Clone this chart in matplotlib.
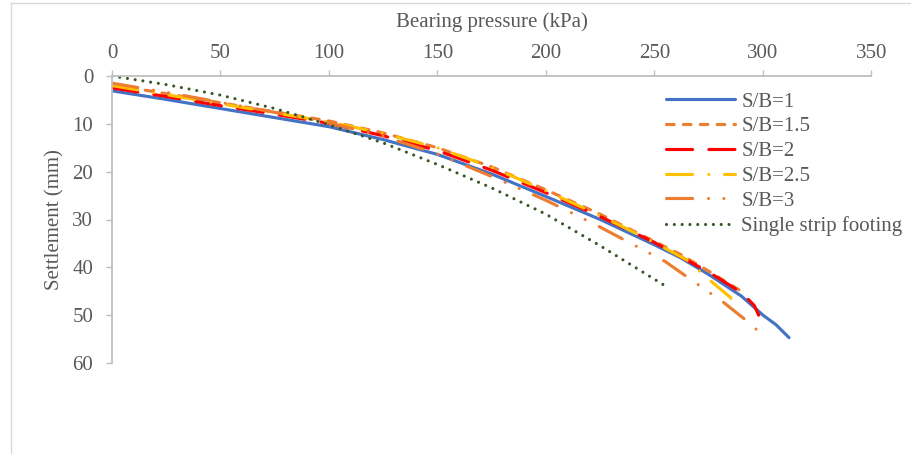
import matplotlib
matplotlib.use("Agg")
import matplotlib.pyplot as plt
from matplotlib.lines import Line2D

# ---- data ----
sb1_x = [0, 25, 50, 75, 100, 125, 150, 175, 200, 225, 250, 262, 275, 290, 300, 306, 312]
sb1_y = [3.1, 4.9, 6.8, 8.7, 10.6, 13.3, 16.4, 20.5, 25.2, 30.0, 35.3, 38.0, 41.5, 46.0, 50.0, 52.0, 54.7]

sb15_x = [0, 25, 50, 75, 100, 125, 150, 175, 200, 225, 250, 262, 275, 290]
sb15_y = [1.8, 3.7, 5.6, 7.5, 9.4, 11.9, 15.0, 19.0, 23.8, 28.9, 34.6, 37.3, 40.8, 45.0]

sb2_x = [0, 25, 50, 75, 100, 125, 150, 175, 200, 225, 250, 275, 287, 293, 296, 298]
sb2_y = [2.5, 4.3, 6.2, 8.0, 9.9, 12.5, 15.6, 19.7, 24.4, 29.4, 34.8, 41.0, 44.4, 46.6, 48.0, 50.0]

sb25_x = [0, 25, 50, 75, 100, 125, 150, 175, 200, 225, 250, 265, 275, 285, 288]
sb25_y = [2.0, 3.9, 5.8, 7.7, 9.6, 12.0, 15.0, 19.1, 24.0, 29.2, 34.8, 38.5, 42.5, 46.3, 48.8]

sb3_x = [0, 25, 50, 75, 100, 125, 150, 175, 200, 210, 225, 240, 255, 265, 282, 292, 297]
sb3_y = [1.5, 3.4, 5.5, 7.6, 9.8, 12.6, 16.3, 21.0, 26.0, 28.2, 31.6, 35.2, 38.8, 42.0, 47.4, 51.0, 53.0]

single_x = [0, 25, 50, 75, 100, 125, 150, 175, 200, 225, 255]
single_y = [0.0, 1.8, 4.0, 6.8, 10.2, 14.0, 18.5, 23.4, 28.9, 35.5, 43.9]

labels = ["S/B=1", "S/B=1.5", "S/B=2", "S/B=2.5", "S/B=3", "Single strip footing"]
x_ticks = [0, 50, 100, 150, 200, 250, 300, 350]
y_ticks = [0, 10, 20, 30, 40, 50, 60]

# ---- figure ----
W, H = 911, 454
fig = plt.figure(figsize=(W / 100, H / 100), dpi=100)
plt.rcParams['font.family'] = ['Liberation Serif', 'DejaVu Serif']
FS = 15
TXT = '#595959'
GRID = '#BFBFBF'

# outer chart border
fig.add_artist(Line2D([10.5 / W, 10.5 / W], [0, 1 - 3 / H], color='#D9D9D9', lw=1.0, transform=fig.transFigure))
fig.add_artist(Line2D([10.5 / W, 1], [1 - 3 / H, 1 - 3 / H], color='#D9D9D9', lw=1.0, transform=fig.transFigure))

left, right, top, bottom = 112, 871.5, 76, 363
ax = fig.add_axes([left / W, 1 - bottom / H, (right - left) / W, (bottom - top) / H])

LW = 2.25
series = [
    (sb1_x, sb1_y, '#4472C4', None),
    (sb15_x, sb15_y, '#ED7D31', (2.45, 2.95)),
    (sb2_x, sb2_y, '#FF0000', (8.35, 5.2)),
    (sb25_x, sb25_y, '#FFC000', (8.35, 5.2, 0.001, 5.0)),
    (sb3_x, sb3_y, '#ED7D31', (8.35, 5.1, 0.001, 4.9, 0.001, 5.0)),
    (single_x, single_y, '#375623', (0.001, 2.5)),
]
for (xs, ys, c, d), lab in zip(series, labels):
    if d is None:
        ax.plot(xs, ys, color=c, lw=LW, solid_capstyle='round', solid_joinstyle='round', label=lab)
    else:
        ax.plot(xs, ys, color=c, lw=LW, dashes=d, dash_capstyle='round', dash_joinstyle='round', label=lab)

ax.set_xlim(0, 350)
ax.set_ylim(60, 0)
ax.xaxis.tick_top()
ax.set_xticks(x_ticks)
ax.set_yticks(y_ticks)
ax.set_xticklabels([str(v) for v in x_ticks])
ax.set_yticklabels([str(v) for v in y_ticks])
for s in ['right', 'bottom']:
    ax.spines[s].set_visible(False)
for s in ['top', 'left']:
    ax.spines[s].set_color(GRID)
    ax.spines[s].set_linewidth(1.3)
ax.tick_params(axis='x', which='both', direction='out', length=4, width=1.0, color=GRID,
               labelsize=FS, labelcolor=TXT, pad=5, top=True, bottom=False)
ax.tick_params(axis='y', which='both', direction='out', length=4, width=1.0, color=GRID,
               labelsize=FS, labelcolor=TXT, pad=9.5)
ax.patch.set_visible(False)

fig.text(491.5 / W, 1 - 27 / H, "Bearing pressure (kPa)", ha='center', va='baseline', fontsize=FS, color=TXT)
fig.text(55 / W, 1 - 219.5 / H, "Settlement (mm)", ha='center', va='center', rotation=90, fontsize=FS, color=TXT)

leg = fig.legend(loc='upper left', bbox_to_anchor=(666 / W, 1 - 92 / H), bbox_transform=fig.transFigure,
                 frameon=False, fontsize=FS, handlelength=3.3, handletextpad=0.32, labelspacing=0.25,
                 borderpad=0, borderaxespad=0)
for t in leg.get_texts():
    t.set_color(TXT)

fig.savefig("out.png", dpi=100)
